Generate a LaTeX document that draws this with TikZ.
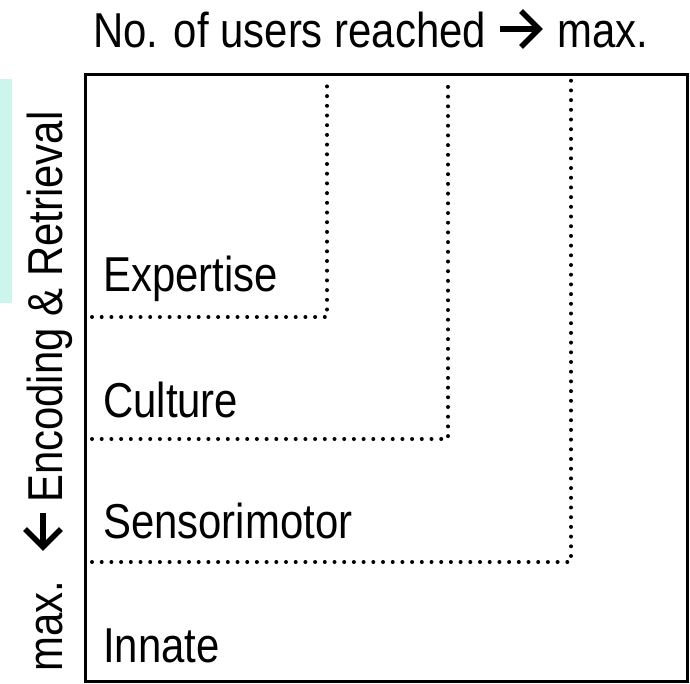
\documentclass[tikz,border=0pt]{standalone}
\usepackage{fontspec}
\setmainfont{Liberation Sans}
\definecolor{mint}{RGB}{204,246,236}
\newcommand{\nar}[1]{\scalebox{0.855}[1]{#1}}
\begin{document}
\begin{tikzpicture}[x=1pt,y=1pt,
  lbl/.style={anchor=base west, inner sep=0pt, font=\fontsize{49}{49}\selectfont},
  dots/.style={line width=4pt, line cap=round, dash pattern=on 0pt off 9.7pt},
  frame/.style={line width=3pt},
  bigarrow/.style={line width=5.5pt, miter limit=10}]
\useasboundingbox (0,0) rectangle (690,-683);
\fill[mint] (0,-79) rectangle (12,-303);
% title
\node[lbl] (title) at (93,-47) {\nar{No. of users reached}};
\node[lbl] (titlemax) at (557,-47) {\nar{max.}};
\coordinate (ta) at (500,-29);
\coordinate (tb) at (539,-29);
\draw[bigarrow] (ta) -- (tb);
\draw[bigarrow] (521,-11) -- (tb) -- (521,-47);
% vertical label
\node[lbl, rotate=90] (ymax) at (62,-672) {\nar{max.}};
\node[lbl, rotate=90] (ylab) at (62,-503) {\nar{Encoding \& Retrieval}};
\coordinate (va) at (43,-513);
\coordinate (vb) at (43,-547);
\draw[bigarrow] (va) -- (vb);
\draw[bigarrow] (25,-529) -- (vb) -- (61,-529);
% frame and regions
\draw[frame] (85,-74) rectangle (687,-681);
\draw[dots] (92,-317) -- (327,-317) -- (327,-80);
\draw[dots] (92,-439) -- (448,-439) -- (448,-80);
\draw[dots] (92,-562) -- (571,-562) -- (571,-80);
\node[lbl] (expertise) at (103,-291) {\nar{Expertise}};
\node[lbl] (culture) at (103,-417) {\nar{Culture}};
\node[lbl] (sensorimotor) at (103,-538) {\nar{Sensorimotor}};
\node[lbl] (innate) at (103,-662) {\nar{Innate}};
\end{tikzpicture}
\end{document}
